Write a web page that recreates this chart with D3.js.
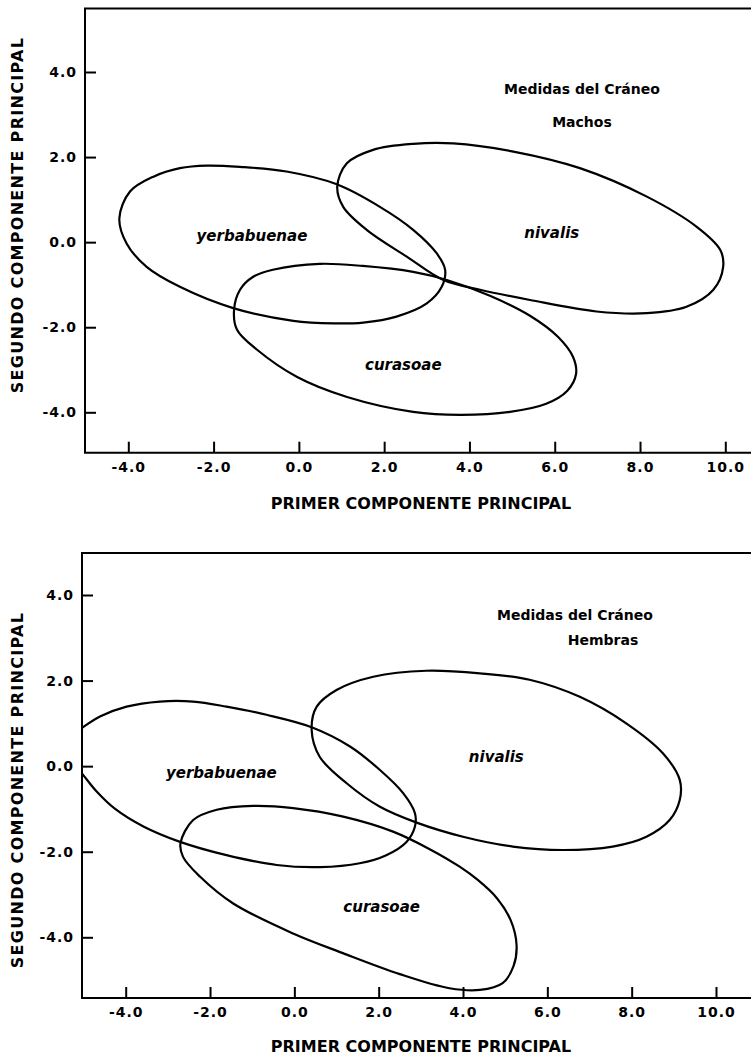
<!DOCTYPE html>
<html>
<head>
<meta charset="utf-8">
<script src="https://cdn.jsdelivr.net/npm/d3@7"></script>
<style>
  html, body { margin: 0; padding: 0; background: #fff; }
  svg { display: block; }
  .tick text { font-family: "DejaVu Sans", sans-serif; font-weight: bold; font-size: 14px; letter-spacing: 1px; fill: #000; }
  .tick line { stroke: #000; stroke-width: 2px; }
  .frame { stroke: #000; stroke-width: 2px; fill: none; }
  .contour { stroke: #000; stroke-width: 2.2px; fill: none; }
  .atitle { font-family: "DejaVu Sans", sans-serif; font-weight: bold; font-size: 16px; fill: #000; }
  .ptitle { font-family: "DejaVu Sans", sans-serif; font-weight: bold; font-size: 14px; fill: #000; }
  .slabel { font-family: "DejaVu Sans", sans-serif; font-weight: bold; font-style: italic; font-size: 15px; fill: #000; }
</style>
</head>
<body>
<svg id="chart" width="751" height="1058"></svg>
<script>
// ---- data ----
const xTicks = [-4, -2, 0, 2, 4, 6, 8, 10];
const yTicks = [-4, -2, 0, 2, 4];
const species = ["yerbabuenae", "nivalis", "curasoae"];
const xTitle = "PRIMER COMPONENTE PRINCIPAL";
const yTitle = "SEGUNDO COMPONENTE PRINCIPAL";
const panelTitles = ["Medidas del Cráneo", "Medidas del Cráneo"];
const panelSubtitles = ["Machos", "Hembras"];

// Machos (males) contours: [PC1, PC2]
const machosYerbabuenae = [
  [-4.21, 0.56], [-3.96, 1.19], [-3.41, 1.54], [-2.79, 1.74], [-2.16, 1.80], [-1.38, 1.77],
  [-0.29, 1.66], [0.89, 1.36], [1.90, 0.83], [2.68, 0.29], [3.23, -0.26], [3.43, -0.65],
  [3.35, -1.05], [3.00, -1.44], [2.29, -1.75], [1.51, -1.89], [0.81, -1.91], [-0.13, -1.85],
  [-1.54, -1.55], [-2.79, -1.05], [-3.57, -0.58], [-4.04, -0.03]
];
const machosNivalis = [
  [0.90, 1.30], [1.12, 1.85], [1.74, 2.17], [2.68, 2.31], [3.62, 2.32], [5.03, 2.13],
  [6.59, 1.74], [8.16, 1.07], [9.33, 0.36], [9.88, -0.18], [9.95, -0.58], [9.72, -1.12],
  [9.09, -1.52], [8.16, -1.67], [6.98, -1.63], [5.42, -1.36], [4.25, -1.12], [3.39, -0.89],
  [2.53, -0.34], [1.59, 0.29], [1.04, 0.83]
];
const machosCurasoae = [
  [-1.52, -1.59], [-1.38, -1.12], [-1.08, -0.82], [-0.61, -0.65], [0.49, -0.51], [1.50, -0.56],
  [2.68, -0.70], [3.47, -0.89], [4.48, -1.26], [5.42, -1.73], [6.08, -2.23], [6.43, -2.70],
  [6.50, -3.10], [6.29, -3.50], [5.80, -3.80], [4.95, -3.99], [3.78, -4.06], [2.68, -3.99],
  [1.13, -3.64], [-0.04, -3.17], [-0.98, -2.53], [-1.45, -2.06]
];
const machosLabelPos = [[-1.10, 0.15], [5.93, 0.21], [2.45, -2.89]];

// Hembras (females) contours: [PC1, PC2]
const hembrasYerbabuenae = [
  [-5.04, 0.89], [-4.61, 1.16], [-3.98, 1.39], [-3.19, 1.51], [-2.40, 1.51], [-1.61, 1.39],
  [-0.66, 1.20], [0.41, 0.91], [1.32, 0.46], [2.03, -0.09], [2.58, -0.63], [2.86, -1.10],
  [2.86, -1.41], [2.66, -1.77], [2.18, -2.08], [1.55, -2.27], [0.60, -2.36], [-0.42, -2.31],
  [-1.61, -2.08], [-2.71, -1.77], [-3.58, -1.41], [-4.25, -1.00], [-4.70, -0.58], [-5.04, -0.17],
  [-5.27, 0.07], [-5.41, 0.38], [-5.32, 0.68]
];
const hembrasNivalis = [
  [0.41, 0.85], [0.53, 1.39], [1.00, 1.78], [1.87, 2.09], [3.13, 2.23], [4.40, 2.17],
  [5.58, 2.02], [6.77, 1.62], [7.87, 1.00], [8.74, 0.30], [9.14, -0.32], [9.14, -0.79],
  [8.90, -1.26], [8.35, -1.65], [7.55, -1.88], [6.37, -1.96], [5.18, -1.88], [4.00, -1.65],
  [2.90, -1.32], [2.03, -0.95], [1.24, -0.40], [0.60, 0.22]
];
const hembrasCurasoae = [
  [-2.70, -1.80], [-2.40, -1.26], [-1.84, -1.02], [-0.98, -0.93], [-0.03, -0.98], [1.16, -1.18],
  [2.34, -1.53], [3.21, -1.94], [3.92, -2.35], [4.35, -2.66], [4.80, -3.08], [5.13, -3.60],
  [5.27, -4.18], [5.20, -4.67], [4.94, -5.07], [4.40, -5.23], [3.68, -5.19], [2.50, -4.86],
  [1.15, -4.37], [-0.03, -3.91], [-1.45, -3.21], [-2.24, -2.58], [-2.64, -2.12]
];
const hembrasLabelPos = [[-1.73, -0.17], [4.79, 0.22], [2.07, -3.30]];

// ---- panel layout (pixels) ----
const panels = [
  {
    id: "m", top: 8.6, left: 85, bottom: 452.7, right: 751,
    xr: [128.3, 725.3], yr: [412.3, 72],
    contours: [machosYerbabuenae, machosNivalis, machosCurasoae],
    labels: machosLabelPos, title: panelTitles[0], sub: panelSubtitles[0],
    titlePos: [582, 89], subPos: [582, 122],
    xTitleY: 503, yTitleY: 215
  },
  {
    id: "h", top: 553, left: 82, bottom: 998, right: 751,
    xr: [125.7, 716], yr: [937.3, 595],
    contours: [hembrasYerbabuenae, hembrasNivalis, hembrasCurasoae],
    labels: hembrasLabelPos, title: panelTitles[1], sub: panelSubtitles[1],
    titlePos: [575, 615], subPos: [603, 640],
    xTitleY: 1046, yTitleY: 790
  }
];

const svg = d3.select("#chart");

panels.forEach(p => {
  const x = d3.scaleLinear().domain([-4, 10]).range(p.xr);
  const y = d3.scaleLinear().domain([-4, 4]).range(p.yr);
  const g = svg.append("g");

  g.append("clipPath").attr("id", "clip-" + p.id)
    .append("rect")
    .attr("x", p.left).attr("y", p.top)
    .attr("width", p.right - p.left).attr("height", p.bottom - p.top);

  const line = d3.line()
    .x(d => x(d[0])).y(d => y(d[1]))
    .curve(d3.curveCatmullRomClosed.alpha(0.5));

  g.append("g").attr("clip-path", `url(#clip-${p.id})`)
    .selectAll("path").data(p.contours).join("path")
    .attr("class", "contour")
    .attr("d", line);

  // frame: top, left, bottom
  g.append("path").attr("class", "frame")
    .attr("d", `M${p.right},${p.top}H${p.left}V${p.bottom}H${p.right}`);

  // axes
  const xa = d3.axisBottom(x).tickValues(xTicks)
    .tickSizeInner(-11).tickSizeOuter(0).tickPadding(9.5)
    .tickFormat(d => d.toFixed(1));
  const xg = g.append("g").attr("transform", `translate(0,${p.bottom})`).call(xa);
  xg.select(".domain").remove();

  const ya = d3.axisLeft(y).tickValues(yTicks)
    .tickSizeInner(-11).tickSizeOuter(0).tickPadding(8)
    .tickFormat(d => d.toFixed(1));
  const yg = g.append("g").attr("transform", `translate(${p.left},0)`).call(ya);
  yg.select(".domain").remove();

  // species labels
  g.selectAll("text.slabel").data(species).join("text")
    .attr("class", "slabel")
    .attr("x", (d, i) => x(p.labels[i][0]))
    .attr("y", (d, i) => y(p.labels[i][1]))
    .attr("text-anchor", "middle")
    .attr("dominant-baseline", "central")
    .text(d => d);

  // panel titles
  g.append("text").attr("class", "ptitle")
    .attr("x", p.titlePos[0]).attr("y", p.titlePos[1])
    .attr("text-anchor", "middle").attr("dominant-baseline", "central")
    .text(p.title);
  g.append("text").attr("class", "ptitle")
    .attr("x", p.subPos[0]).attr("y", p.subPos[1])
    .attr("text-anchor", "middle").attr("dominant-baseline", "central")
    .text(p.sub);

  // axis titles
  g.append("text").attr("class", "atitle")
    .attr("x", 421).attr("y", p.xTitleY)
    .attr("text-anchor", "middle").attr("dominant-baseline", "central")
    .text(xTitle);
  g.append("text").attr("class", "atitle")
    .attr("transform", `translate(17,${p.yTitleY}) rotate(-90)`)
    .attr("text-anchor", "middle").attr("dominant-baseline", "central")
    .style("letter-spacing", "1.3px")
    .text(yTitle);
});
</script>
</body>
</html>
